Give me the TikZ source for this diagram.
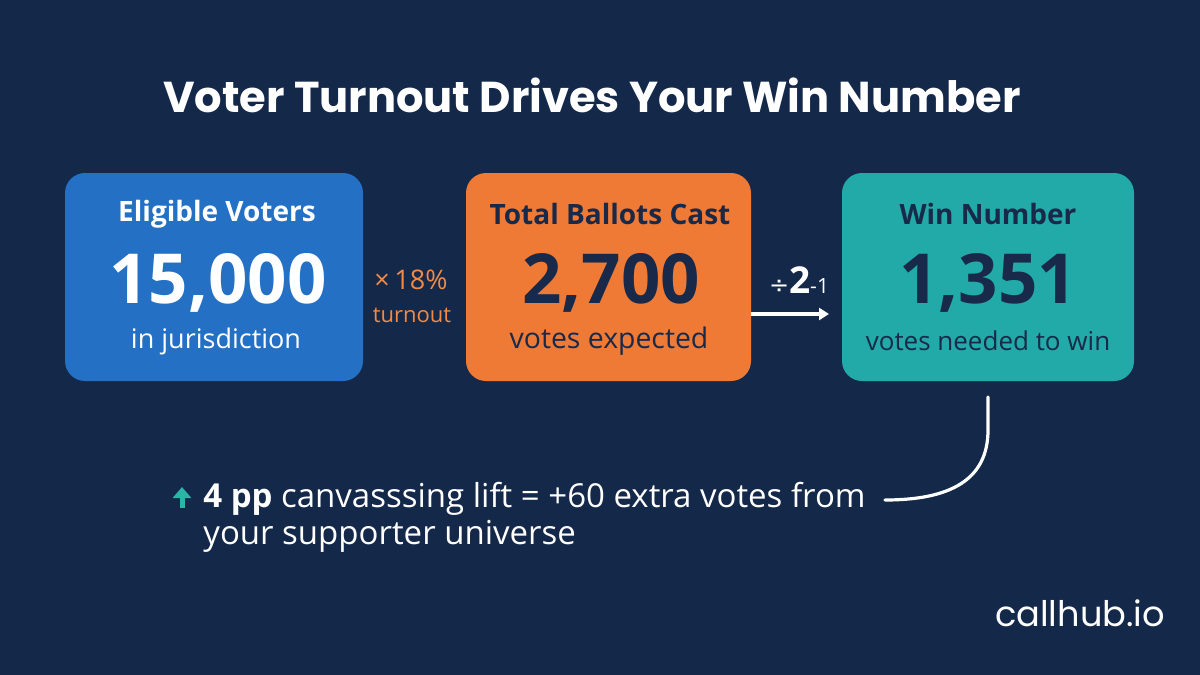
\documentclass[tikz,border=0pt]{standalone}
\usepackage{fontspec}
\setmainfont{Open Sans}
\newfontfamily\titlefont{Poppins}
\newfontfamily\symfont{DejaVu Sans}
\usetikzlibrary{arrows.meta}
\definecolor{bg}{HTML}{14284A}
\definecolor{boxblue}{HTML}{2470C4}
\definecolor{boxorange}{HTML}{EF7A35}
\definecolor{boxteal}{HTML}{21AAA8}
\definecolor{navy}{HTML}{18294A}
\definecolor{lblorange}{HTML}{F08A45}
\definecolor{arrteal}{HTML}{2BB5A5}
\tikzset{
  card/.style={rounded corners=10pt, minimum height=104pt, inner sep=0pt},
  cardtitle/.style={font=\fontsize{14}{16}\selectfont\bfseries},
  bignum/.style={font=\fontsize{34.5}{38}\selectfont\bfseries},
  cardsub/.style={font=\fontsize{13.5}{16}\selectfont},
  oplabel/.style={font=\fontsize{11}{13}\selectfont},
  wline/.style={draw=white, line width=1.6pt},
  bottomtext/.style={text=white, anchor=base west, inner sep=0pt, font=\fontsize{16.5}{19}\selectfont},
}
\begin{document}
\begin{tikzpicture}[x=0.5pt,y=-0.5pt]
\useasboundingbox[fill=bg] (0,0) rectangle (1200,675);
% title
\node[text=white, font=\titlefont\fontsize{21.6}{25}\selectfont\bfseries] (title) at (592,95) {Voter Turnout Drives Your Win Number};
% cards
\node[card, fill=boxblue, minimum width=149pt] (elig) at (214,277) {};
\node[card, fill=boxorange, minimum width=142.5pt] (ballots) at (608.5,277) {};
\node[card, fill=boxteal, minimum width=146pt] (win) at (988,277) {};
% card texts
\node[cardtitle, text=white] (eligT) at (217,214) {Eligible Voters};
\node[bignum, text=white] (eligN) at (218,283) {15,000};
\node[cardsub, text=white] (eligS) at (216,341) {in jurisdiction};
\node[cardtitle, text=navy] (ballT) at (610,214) {Total Ballots Cast};
\node[bignum, text=navy] (ballN) at (611,283) {2,700};
\node[cardsub, text=navy, font=\fontsize{14.2}{16}\selectfont] (ballS) at (609,341) {votes expected};
\node[cardtitle, text=navy] (winT) at (988,214) {Win Number};
\node[bignum, text=navy] (winN) at (988,283) {1,351};
\node[cardsub, text=navy, font=\fontsize{13}{16}\selectfont] (winS) at (988,341) {votes needed to win};
% operators
\node[text=lblorange, font=\fontsize{13.5}{15}\selectfont] (mult) at (411,280) {×\,18\%};
\node[oplabel, text=lblorange] (turn) at (412,315) {turnout};
\node[text=white, inner sep=0pt] (div) at (799,280) {{\symfont\fontsize{12}{13}\selectfont ÷}{\fontsize{18.5}{19}\selectfont\bfseries 2}{\fontsize{10.5}{12}\selectfont -1}};
\coordinate (arrEnd) at (829,314);
\draw[wline, -{Triangle[length=5pt,width=6pt]}] (ballots.east |- arrEnd) -- (arrEnd);
% curve connector
\coordinate (cEnd) at (885,500);
\coordinate (cStart) at (988,397);
\draw[wline, line cap=round] (cStart) -- (988,430) .. controls (988,480) and (950,500) .. (cEnd);
% bottom text
\coordinate (upTop) at (182,487);
\coordinate (upBot) at (182,508);
\draw[draw=arrteal, line width=2.5pt, -{Triangle[length=5.5pt,width=9pt]}] (upBot) -- (upTop);
\node[bottomtext] (lift1) at (203,507) {{\bfseries 4 pp} canvasssing lift = +60 extra votes from};
\node[bottomtext] (lift2) at (203,544) {your supporter universe};
% brand
\node[text=white, font=\titlefont\fontsize{17.6}{20}\selectfont] (brand) at (1080,613) {callhub.io};
\end{tikzpicture}
\end{document}
